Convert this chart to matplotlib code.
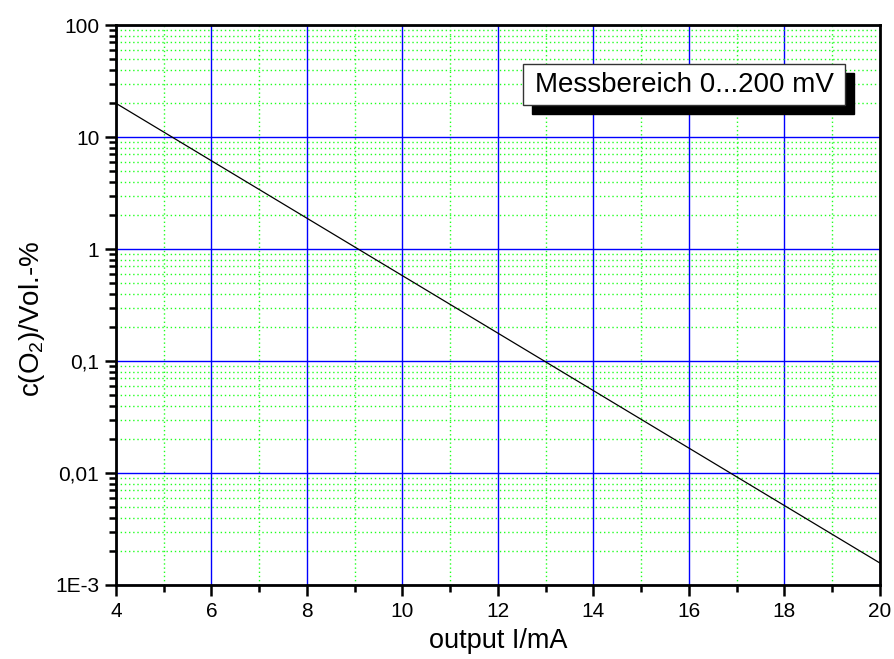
import numpy as np
import matplotlib.pyplot as plt
from matplotlib.ticker import FixedLocator, FixedFormatter, LogLocator, NullFormatter

plt.rcParams['font.family'] = ['Liberation Sans', 'DejaVu Sans']
plt.rcParams['mathtext.fontset'] = 'custom'
plt.rcParams['mathtext.rm'] = 'Liberation Sans'
plt.rcParams['mathtext.it'] = 'Liberation Sans'

# Data (straight line on log scale)
current_ma = [4, 20]
o2_conc = [20.0, 0.00157]

x_ticks = [4, 6, 8, 10, 12, 14, 16, 18, 20]
y_ticks = [1e-3, 1e-2, 1e-1, 1, 10, 100]
y_tick_labels = ["1E-3", "0,01", "0,1", "1", "10", "100"]

fig = plt.figure(figsize=(8.95, 6.59), dpi=100)
ax = fig.add_axes([0.1296, 0.1123, 0.8536, 0.8497])

ax.set_yscale('log')
ax.set_xlim(4, 20)
ax.set_ylim(1e-3, 100)

ax.xaxis.set_major_locator(FixedLocator(x_ticks))
ax.xaxis.set_minor_locator(FixedLocator(np.arange(5, 20, 2)))
ax.yaxis.set_major_locator(FixedLocator(y_ticks))
ax.yaxis.set_major_formatter(FixedFormatter(y_tick_labels))
ax.yaxis.set_minor_locator(LogLocator(base=10, subs=np.arange(2, 10)))
ax.yaxis.set_minor_formatter(NullFormatter())

# grid: blue majors, green dotted minors
ax.grid(which='minor', color='#22ff22', linestyle=(0, (1, 2)), linewidth=1.0)
ax.grid(which='major', color='#0000ff', linestyle='-', linewidth=1.0)
ax.set_axisbelow(True)

ax.plot(current_ma, o2_conc, color='black', linewidth=0.9, zorder=3)

for s in ax.spines.values():
    s.set_linewidth(2)
ax.tick_params(which='major', direction='out', length=8, width=1.8, labelsize=15, pad=4)
ax.tick_params(which='minor', direction='out', length=5, width=1.8)
ax.tick_params(top=False, right=False)

ax.set_xlabel('output I/mA', fontsize=19.5, labelpad=5)
ax.set_ylabel(r'c(O$_2$)/Vol.-%', fontsize=20)
ax.yaxis.set_label_coords(-0.09, 0.475)

# label box with shadow
box_w, box_h = 322 / 895, 41 / 659
bx, by = 523 / 895, 1 - 105 / 659
sh = 9 / 895, 9 / 659
fig.patches.append(plt.Rectangle((bx + sh[0], by - sh[1]), box_w, box_h, transform=fig.transFigure,
                                 facecolor='black', edgecolor='black', zorder=5))
fig.patches.append(plt.Rectangle((bx, by), box_w, box_h, transform=fig.transFigure,
                                 facecolor='white', edgecolor='#333333', linewidth=1, zorder=6))
fig.text(bx + box_w / 2, by + box_h / 2, 'Messbereich 0...200 mV', ha='center', va='center',
         fontsize=20, zorder=7)

fig.savefig('out.png', dpi=100)
